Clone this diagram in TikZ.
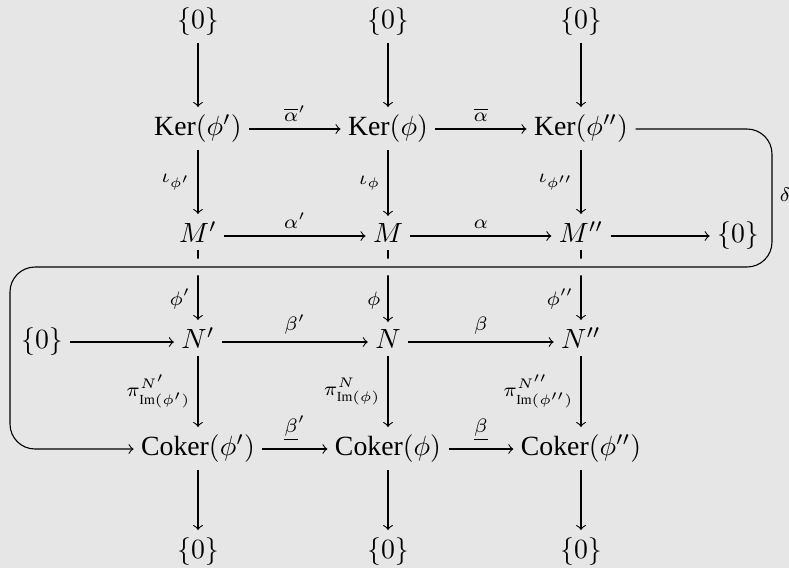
\documentclass[tikz,border=0pt]{standalone}
\usepackage{fontspec}
\setmainfont{Liberation Serif}
\definecolor{bggray}{RGB}{230,230,230}

\begin{document}
\begin{tikzpicture}[x=0.36pt, y=-0.36pt, >=to,
    obj/.style={anchor=mid, inner sep=2.5pt},
    lbl/.style={inner sep=2.5pt}]
    % Background, fixes the picture size
    \useasboundingbox (0,0) rectangle (789,568);
    \fill[bggray] (0,0) rectangle (789,568);

    % Variables for the columns and rows
    \def\xl{42}
    \def\xa{198}
    \def\xb{388}
    \def\xc{581}
    \def\xr{738}
    \def\ya{22}
    \def\yb{129}
    \def\yc{236}
    \def\yd{342}
    \def\ye{449}
    \def\yf{552}
    % Variables for the connecting loop
    \def\xloopr{772}
    \def\xloopl{10}
    \def\yloop{267}

    % Top zeros
    \node[obj] (top1) at (\xa,\ya) {$\{0\}$};
    \node[obj] (top2) at (\xb,\ya) {$\{0\}$};
    \node[obj] (top3) at (\xc,\ya) {$\{0\}$};

    % Kernels
    \node[obj] (ker1) at (\xa,\yb) {Ker$(\phi')$};
    \node[obj] (ker2) at (\xb,\yb) {Ker$(\phi)$};
    \node[obj] (ker3) at (\xc,\yb) {Ker$(\phi'')$};

    % Modules M
    \node[obj] (m1) at (\xa,\yc) {$M'$};
    \node[obj] (m2) at (\xb,\yc) {$M$};
    \node[obj] (m3) at (\xc,\yc) {$M''$};
    \node[obj] (mzero) at (\xr,\yc) {$\{0\}$};

    % Modules N
    \node[obj] (nzero) at (\xl,\yd) {$\{0\}$};
    \node[obj] (n1) at (\xa,\yd) {$N'$};
    \node[obj] (n2) at (\xb,\yd) {$N$};
    \node[obj] (n3) at (\xc,\yd) {$N''$};

    % Cokernels
    \node[obj] (coker1) at (\xa,\ye) {Coker$(\phi')$};
    \node[obj] (coker2) at (\xb,\ye) {Coker$(\phi)$};
    \node[obj] (coker3) at (\xc,\ye) {Coker$(\phi'')$};

    % Bottom zeros
    \node[obj] (bot1) at (\xa,\yf) {$\{0\}$};
    \node[obj] (bot2) at (\xb,\yf) {$\{0\}$};
    \node[obj] (bot3) at (\xc,\yf) {$\{0\}$};

    % Horizontal maps
    \draw[->] (ker1.mid east) -- node[lbl,above] {$\scriptstyle\overline{\alpha}'$} (ker2.mid west);
    \draw[->] (ker2.mid east) -- node[lbl,above] {$\scriptstyle\overline{\alpha}$} (ker3.mid west);
    \draw[->] (m1.mid east) -- node[lbl,above] {$\scriptstyle\alpha'$} (m2.mid west);
    \draw[->] (m2.mid east) -- node[lbl,above] {$\scriptstyle\alpha$} (m3.mid west);
    \draw[->] (m3.mid east) -- (mzero.mid west);
    \draw[->] (nzero.mid east) -- (n1.mid west);
    \draw[->] (n1.mid east) -- node[lbl,above] {$\scriptstyle\beta'$} (n2.mid west);
    \draw[->] (n2.mid east) -- node[lbl,above] {$\scriptstyle\beta$} (n3.mid west);
    \draw[->] (coker1.mid east) -- node[lbl,above] {$\scriptstyle\underline{\beta}'$} (coker2.mid west);
    \draw[->] (coker2.mid east) -- node[lbl,above] {$\scriptstyle\underline{\beta}$} (coker3.mid west);

    % Vertical maps
    \draw[->] (top1) -- (ker1);
    \draw[->] (top2) -- (ker2);
    \draw[->] (top3) -- (ker3);
    \draw[->] (ker1) -- node[lbl,left] {$\scriptstyle\iota_{\phi'}$} (m1);
    \draw[->] (ker2) -- node[lbl,left] {$\scriptstyle\iota_{\phi}$} (m2);
    \draw[->] (ker3) -- node[lbl,left] {$\scriptstyle\iota_{\phi''}$} (m3);
    \draw[->] (m1) -- node[lbl,left,pos=0.7] {$\scriptstyle\phi'$} (n1);
    \draw[->] (m2) -- node[lbl,left,pos=0.7] {$\scriptstyle\phi$} (n2);
    \draw[->] (m3) -- node[lbl,left,pos=0.7] {$\scriptstyle\phi''$} (n3);
    \draw[->] (n1) -- node[lbl,left] {$\scriptstyle\pi^{N'}_{\mathrm{Im}(\phi')}$} (coker1);
    \draw[->] (n2) -- node[lbl,left] {$\scriptstyle\pi^{N}_{\mathrm{Im}(\phi)}$} (coker2);
    \draw[->] (n3) -- node[lbl,left] {$\scriptstyle\pi^{N''}_{\mathrm{Im}(\phi'')}$} (coker3);
    \draw[->] (coker1) -- (bot1);
    \draw[->] (coker2) -- (bot2);
    \draw[->] (coker3) -- (bot3);

    % Connecting map, drawn over the vertical maps
    \draw[->, rounded corners=9pt, preaction={draw=bggray, line width=6pt, -}]
        (ker3.mid east) -- (\xloopr,\yb)
        -- node[lbl,right,yshift=1pt] {$\scriptstyle\delta$} (\xloopr,\yloop)
        -- (\xloopl,\yloop) -- (\xloopl,\ye) -- (coker1.mid west);

\end{tikzpicture}
\end{document}
